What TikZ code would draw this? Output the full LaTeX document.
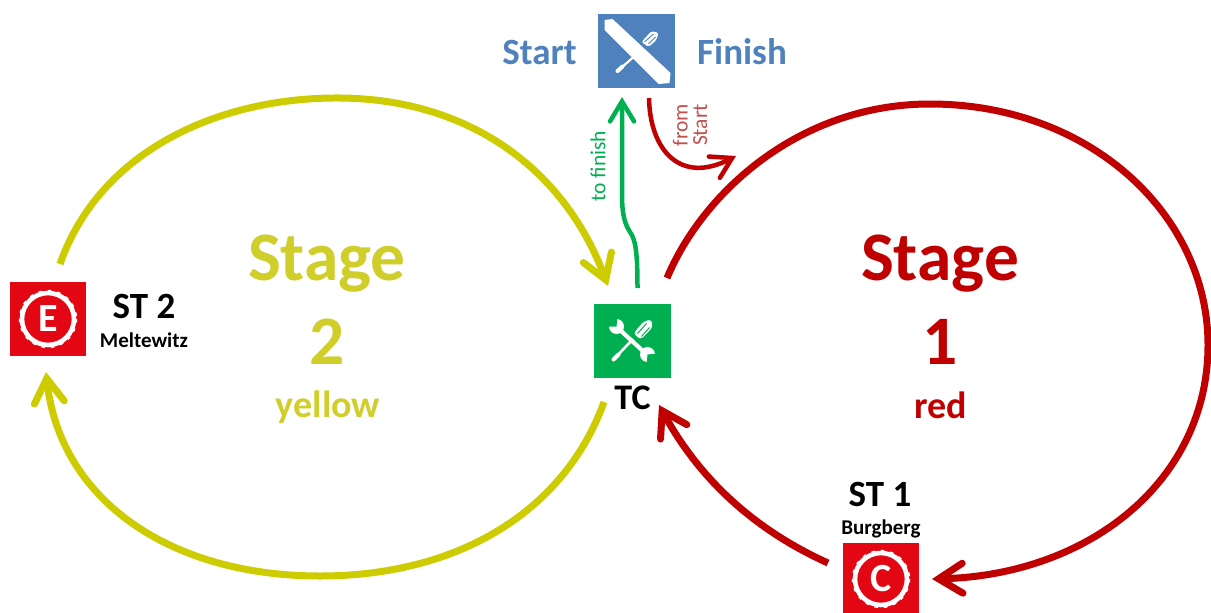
\documentclass[tikz,border=0pt]{standalone}
\usepackage{fontspec}
\setmainfont{Carlito}
\usetikzlibrary{arrows.meta}
\definecolor{yel}{HTML}{CCCC00}
\definecolor{yeltxt}{HTML}{D0CE2A}
\definecolor{rd}{HTML}{C00000}
\definecolor{rdbox}{HTML}{E30613}
\definecolor{grn}{HTML}{00B050}
\definecolor{blu}{HTML}{4F81BD}
\definecolor{rdlt}{HTML}{C0504D}
\tikzset{
 x=1pt,y=-1pt,
 route/.style={line width=7pt,-{Straight Barb[length=24pt,width=30pt,line width=7pt,line cap=round]}},
 thin route/.style={line width=4.5pt,-{Straight Barb[length=20pt,width=24pt,line width=4.5pt,line cap=round]}},
 txt/.style={font=\bfseries,inner sep=0pt,anchor=center},
 iconbox/.style={minimum width=77pt,minimum height=74pt,inner sep=0pt,draw=none},
 stbox/.style={minimum width=76pt,minimum height=74pt,inner sep=0pt,fill=rdbox}
}
\newcommand{\seal}[3]{%
 \draw[white,line width=4.6pt] (#1,#2) circle (26);
 \draw[white,line width=1.8pt,dash pattern=on 3.5pt off 6pt] (#1,#2) circle (28.3);
 \node[txt,white,font=\bfseries\fontsize{40}{40}\selectfont] at (#1,#2) {#3};}
\begin{document}
\begin{tikzpicture}
\useasboundingbox (0,0) rectangle (1211,613);
% boxes
\node[iconbox,fill=blu] (fin) at (636.5,51) {};
\node[iconbox,fill=grn] (tc) at (632.5,340.5) {};
\node[stbox] (e) at (48,319) {};
\node[stbox] (c) at (880.5,580) {};
\seal{48}{319}{E}
\seal{881}{579}{C}
% tool in blue box
\begin{scope}[shift={(fin.center)}]
 \fill[white] (-24,-32) -- (-32,-31) -- (-32,-21) -- (22,33) -- (33,32) -- (34,22) -- cycle;
 \draw[white,line width=2.2pt] (-3,6) -- (-20,21);
 \draw[white,line width=4pt,line cap=round] (-14,15.5) -- (-19,20);
 \fill[white,rounded corners=2pt] (5,-9) -- (15,-20) -- (22,-18) -- (20,-11) -- (12,-4) -- cycle;
 \draw[blu,line width=.9pt] (8,-9) -- (17,-17) (12,-7) -- (19,-14);
\end{scope}
% tools in green box
\begin{scope}[shift={(tc.center)}]
 \draw[white,line width=4.2pt] (-13,-11) -- (12,12);
 \fill[white] (-16,-14) circle (7.5) (15,14) circle (7.5);
 \fill[grn] (-16,-14) -- (-15,-24) -- (-21,-24) -- (-27,-19) -- (-27,-14) -- cycle;
 \fill[grn] (15,14) -- (25,13) -- (25,19) -- (20,25) -- (14,25) -- cycle;
 \draw[grn,line width=1.4pt] (-2,2) -- (-5,5);
 \draw[white,line width=2.6pt,line cap=round] (0,-1) -- (-18,18);
 \draw[white,line width=4pt,line cap=round] (-14,14) -- (-19,19);
 \fill[white,rounded corners=3pt] (1,-7) -- (11,-19) -- (19,-21) -- (20,-13) -- (8,-1) -- cycle;
 \draw[grn,line width=1pt] (5,-7) -- (14,-17) (9,-4) -- (17,-13);
\end{scope}
% connector anchors
\coordinate (y1s) at (60,264); \coordinate (y1e) at (608,286);
\coordinate (y2s) at (604,402); \coordinate (y2e) at (46,372);
\coordinate (r1s) at (667,278); \coordinate (r1e) at (932,579);
\coordinate (r2s) at (828,563); \coordinate (r2e) at (659,405);
\coordinate (gs) at (637.5,288); \coordinate (ge) at (622,97);
\coordinate (rs) at (649,98); \coordinate (re) at (736,156);
% connectors
\draw[route,yel] (y1s) .. controls (100,150) and (220,97) .. (340,98) .. controls (470,99) and (565,170) .. (y1e);
\draw[route,yel] (y2s) .. controls (565,510) and (460,576) .. (320,576) .. controls (170,576) and (60,500) .. (y2e);
\draw[route,rd] (r1s) .. controls (703,192) and (800,104) .. (930,104) .. controls (1090,104) and (1208,215) .. (1208,345) .. controls (1208,480) and (1090,575) .. (r1e);
\draw[route,rd] (r2s) .. controls (755,530) and (700,480) .. (r2e);
\draw[thin route,grn] (gs) .. controls (637.5,255) and (636,240) .. (630,232) .. controls (622,220) and (622,205) .. (622,190) -- (ge);
\draw[thin route,rd] (rs) .. controls (650,150) and (680,185) .. (re);
% text
\node[txt,blu,font=\bfseries\fontsize{37}{37}\selectfont] (ts) at (539.5,53) {Start};
\node[txt,blu,font=\bfseries\fontsize{37}{37}\selectfont] (tf) at (742,52) {Finish};
\node[txt,grn,rotate=90,font=\fontsize{21.5}{21.5}\selectfont,text=grn] (tofin) at (598,166) {to finish};
\node[txt,rdlt,rotate=90,font=\fontsize{21.5}{21.5}\selectfont,align=center] (from) at (690,125) {from\\[-2pt]Start};
\node[txt,yeltxt,font=\bfseries\fontsize{69.5}{69.5}\selectfont] (s2) at (327,264) {Stage};
\node[txt,yeltxt,font=\bfseries\fontsize{69.5}{69.5}\selectfont] (n2) at (327,342) {2};
\node[txt,yeltxt,font=\bfseries\fontsize{38}{38}\selectfont] (ty) at (328,407) {yellow};
\node[txt,rd,font=\bfseries\fontsize{69.5}{69.5}\selectfont] (s1) at (940,264) {Stage};
\node[txt,rd,font=\bfseries\fontsize{69.5}{69.5}\selectfont] (n1) at (940,342) {1};
\node[txt,rd,font=\bfseries\fontsize{38}{38}\selectfont] (tr) at (941,405) {red};
\node[txt,font=\bfseries\fontsize{36}{36}\selectfont] (tc1) at (632.5,398) {TC};
\node[txt,font=\bfseries\fontsize{37}{37}\selectfont] (st2) at (144,306) {ST 2};
\node[txt,font=\bfseries\fontsize{21}{21}\selectfont] (m) at (144,340) {Meltewitz};
\node[txt,font=\bfseries\fontsize{37}{37}\selectfont] (st1) at (880,494) {ST 1};
\node[txt,font=\bfseries\fontsize{21}{21}\selectfont] (b) at (881,529) {Burgberg};
\end{tikzpicture}
\end{document}
